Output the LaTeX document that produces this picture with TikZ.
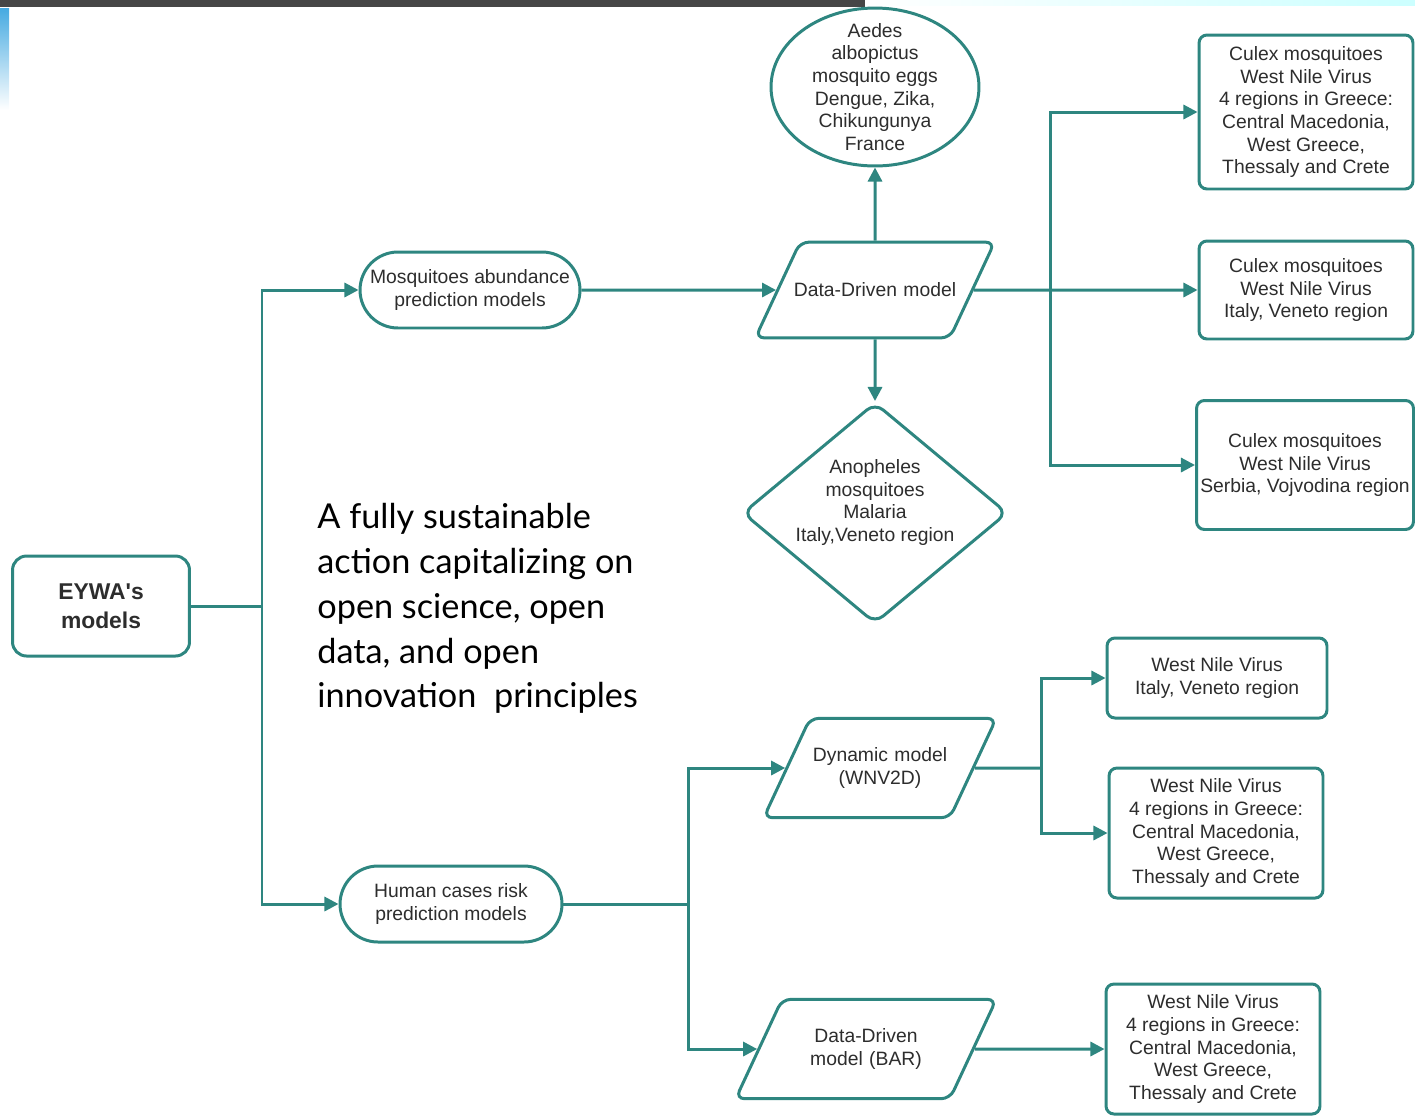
\documentclass[tikz,border=0pt]{standalone}
\usepackage{fontspec}
\setmainfont{Liberation Sans}
\newfontfamily\bigfont{Lato}
\usetikzlibrary{shapes.geometric,shapes.misc,arrows.meta}
\definecolor{xanh}{RGB}{46,134,128}
\definecolor{xamdam}{RGB}{45,45,45}

\begin{document}
\begin{tikzpicture}[x=0.02cm,y=-0.02cm,
    chu/.style={text=xamdam,align=center,font=\fontsize{11}{12.9}\selectfont},
    hop/.style={chu,draw=xanh,line width=1.7pt,fill=white,rounded corners=4.5pt,inner sep=0pt},
    bohop/.style={hop,rounded rectangle,sharp corners},
    binhhanh/.style={hop,trapezium,trapezium left angle=65,trapezium right angle=115,
        text width=3.4cm,inner xsep=#1,rounded corners=5pt},
    duong/.style={draw=xanh,line width=1.7pt},
    muiten/.style={duong,-{Triangle[length=8pt,width=8pt]}}]
    \useasboundingbox (0,0) rectangle (1415,1117);
    % trang trí góc trên
    \fill[gray!55!black] (0,0) rectangle (865,7);
    \shade[top color={rgb,255:red,70;green,170;blue,225},bottom color=white] (0,8) rectangle (9,110);
    \shade[left color=white,right color=cyan!20] (870,0) rectangle (1415,5);
    % các nút
    \node[hop,rounded corners=8pt,minimum width=3.54cm,minimum height=2cm,
        font=\bfseries\fontsize{13}{16.5}\selectfont] (eywa) at (101,606) {EYWA\textquotesingle s\\models};
    \node[bohop,minimum width=4.4cm,minimum height=1.52cm] (mosq) at (470,290) {Mosquitoes abundance\\prediction models};
    \node[bohop,minimum width=4.44cm,minimum height=1.52cm] (human) at (451,904) {Human cases risk\\prediction models};
    \node[binhhanh=-0.2cm,inner ysep=23.2pt] (dd) at (875,290) {Data-Driven model};
    \node[binhhanh=-0.3cm,inner ysep=16.7pt] (dyn) at (880,768) {Dynamic model\\(WNV2D)};
    \node[binhhanh=-0.02cm,inner ysep=16.7pt] (ddbar) at (866,1049) {Data-Driven\\model (BAR)};
    \node[hop,ellipse,minimum width=4.16cm,minimum height=3.16cm,
        label={[chu]center:Aedes\\albopictus\\mosquito eggs\\Dengue, Zika,\\Chikungunya\\France}] (aedes) at (875,87) {};
    \node[hop,diamond,minimum width=5.3cm,minimum height=4.42cm,rounded corners=6pt,
        label={[chu,yshift=6pt]center:Anopheles\\mosquitoes\\Malaria\\Italy,Veneto region}] (anoph) at (875,513) {};
    \node[hop,minimum width=4.28cm,minimum height=3.08cm] (culexA) at (1306,112) {Culex mosquitoes\\West Nile Virus\\4 regions in Greece:\\Central Macedonia,\\West Greece,\\Thessaly and Crete};
    \node[hop,minimum width=4.28cm,minimum height=1.96cm] (culexB) at (1306,290) {Culex mosquitoes\\West Nile Virus\\Italy, Veneto region};
    \node[hop,minimum width=4.34cm,minimum height=2.58cm] (culexC) at (1305,465) {Culex mosquitoes\\West Nile Virus\\Serbia, Vojvodina region};
    \node[hop,minimum width=4.4cm,minimum height=1.6cm] (wnA) at (1217,678) {West Nile Virus\\Italy, Veneto region};
    \node[hop,minimum width=4.28cm,minimum height=2.6cm] (wnB) at (1216,833) {West Nile Virus\\4 regions in Greece:\\Central Macedonia,\\West Greece,\\Thessaly and Crete};
    \node[hop,minimum width=4.28cm,minimum height=2.6cm] (wnC) at (1213,1049) {West Nile Virus\\4 regions in Greece:\\Central Macedonia,\\West Greece,\\Thessaly and Crete};
    \node[anchor=north west,align=left,inner sep=0pt,font=\bigfont\fontsize{19.5}{25.5}\selectfont] (khauhieu) at (317,503)
        {A fully sustainable\\action capitalizing on\\open science, open\\data, and open\\innovation\ \ principles};
    % các đường nối
    \coordinate (tru) at (262,606);
    \coordinate (nhanhA) at (1050,290);
    \coordinate (nhanhB) at (688,904);
    \coordinate (nhanhC) at (1041,768);
    \draw[duong] (eywa) -- (tru);
    \draw[muiten] (human.west -| tru) |- (mosq.west);
    \draw[muiten] (mosq.west -| tru) |- (human.west);
    \draw[muiten] (mosq) -- (dd);
    \draw[muiten] (dd.north) -- (aedes.south);
    \draw[muiten] (dd.south) -- (anoph.north);
    \draw[muiten] (dd.east) -- (culexB.west);
    \foreach \b in {culexA,culexC} \draw[muiten] (nhanhA) |- (\b.west);
    \draw[duong] (human.east) -- (nhanhB);
    \foreach \b in {dyn,ddbar} \draw[muiten] (nhanhB) |- (\b.west);
    \draw[duong] (dyn.east) -- (nhanhC);
    \foreach \b in {wnA,wnB} \draw[muiten] (nhanhC) |- (\b.west);
    \draw[muiten] (ddbar.east) -- (wnC.west);
\end{tikzpicture}
\end{document}
